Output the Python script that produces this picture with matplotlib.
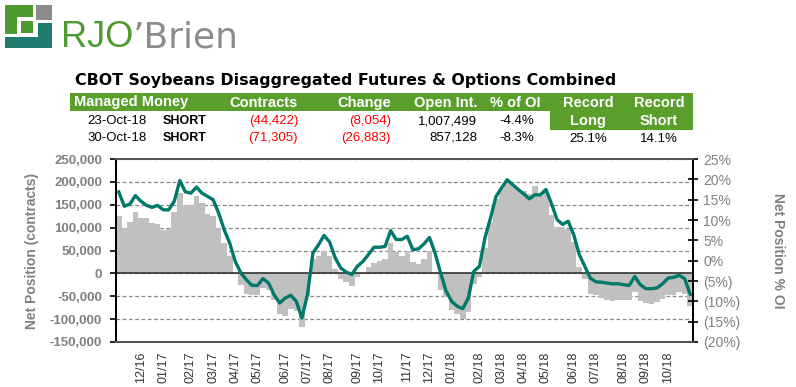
"""CBOT Soybeans managed money positioning chart (RJO'Brien style)."""

import numpy as np
import pandas as pd
import matplotlib
matplotlib.use("Agg")
import matplotlib.pyplot as plt
from matplotlib.patches import Rectangle
from matplotlib.ticker import FuncFormatter, MultipleLocator

# weekly report dates (Tuesdays)
dates = pd.date_range("2016-11-08", "2018-10-30", freq="7D")

# net position, contracts (grey bars, left axis)
net_contracts = [
    124500, 99000, 112000, 134000, 121600, 121000, 110000, 107000, 94600, 97500,
    134000, 176000, 150000, 148500, 170000, 154000, 130000, 125000, 99000, 67000,
    39000, -2000, -26000, -44000, -46600, -46600, -32000, -37000, -59000, -88000,
    -93000, -78600, -83000, -117000, -50000, 32000, 39000, 48800, 39000, 10000,
    -13000, -19000, -27600, -8000, -1000, 14000, 23000, 28000, 30500, 67000,
    46600, 39000, 48800, 24700, 21000, 32000, 50000, 2000, -37000, -51700,
    -80800, -88000, -99000, -84000, -22600, -8000, 55000, 112000, 163000, 185000,
    203000, 193600, 185000, 181000, 174000, 192000, 170000, 177600, 126700, 101000,
    101000, 97500, 68400, 13800, -11600, -44400, -48000, -54000, -59000, -60000,
    -57500, -59000, -57500, -40800, -61000, -64000, -67700, -62600, -55300, -48000,
    -46600, -40800, -44422, -71305,
]

# net position as % of open interest (teal line, right axis)
net_pct_oi = [
    16.9, 13.4, 13.9, 16.0, 14.6, 13.6, 13.1, 13.6, 12.5, 12.5,
    14.6, 19.7, 16.9, 16.6, 18.1, 16.6, 15.8, 15.0, 11.7, 7.6,
    4.3, -0.2, -3.0, -4.7, -6.1, -6.1, -4.4, -5.5, -8.4, -10.4,
    -9.2, -8.5, -10.0, -14.1, -8.4, 1.9, 3.9, 6.2, 4.6, 0.7,
    -1.8, -2.8, -3.4, -1.4, -0.2, 1.5, 3.3, 3.3, 3.5, 7.4,
    5.2, 5.2, 6.0, 2.7, 2.9, 4.1, 5.7, 1.9, -3.0, -7.5,
    -10.0, -11.2, -11.8, -9.2, -2.6, -1.4, 5.6, 10.5, 15.8, 17.9,
    19.9, 18.7, 17.5, 16.4, 15.2, 16.2, 16.2, 17.5, 14.0, 10.1,
    8.9, 9.7, 6.4, 1.5, -1.4, -4.3, -5.2, -5.3, -5.5, -5.7,
    -5.7, -5.9, -6.1, -3.9, -5.9, -6.9, -6.9, -6.7, -5.7, -4.3,
    -4.1, -3.6, -4.4, -8.3,
]

# summary table
table_headers = ["Contracts", "Change", "Open Int.", "% of OI"]
row_dates = ["23-Oct-18", "30-Oct-18"]
row_side = ["SHORT", "SHORT"]
row_contracts = ["(44,422)", "(71,305)"]
row_change = ["(8,054)", "(26,883)"]
row_oi = ["1,007,499", "857,128"]
row_pct = ["-4.4%", "-8.3%"]
record_long = "25.1%"
record_short = "14.1%"

GREEN = "#5a9e2c"
TEAL = "#00786a"
GREY_TXT = "#808080"
W, H = 796, 387

plt.rcParams["font.family"] = ["Liberation Sans", "DejaVu Sans"]

fig = plt.figure(figsize=(W / 100, H / 100), dpi=100)


def fx(x):
    return x / W


def fy(y):
    return 1 - y / H


def px_rect(x0, y0, x1, y1, color):
    fig.patches.append(Rectangle((fx(x0), fy(y1)), fx(x1) - fx(x0), fy(y0) - fy(y1),
                                 transform=fig.transFigure, color=color, lw=0))


def ftext(x, y, s, **kw):
    kw.setdefault("va", "center")
    return fig.text(fx(x), fy(y), s, **kw)


# logo
px_rect(5, 5, 33, 17, "#4e9a2f")
px_rect(5, 5, 17, 34, "#4e9a2f")
px_rect(21, 21, 33, 33, "#4e9a2f")
px_rect(36, 5, 52, 20, "#8c8c8c")
px_rect(5, 37, 52, 48, "#1e7b6e")
px_rect(38, 23, 52, 48, "#1e7b6e")
ftext(61, 47, "RJO", color="#4e9a2f", fontsize=26, va="baseline")
ftext(133, 47, "\u2019Brien", color="#8c8c8c", fontsize=26, va="baseline",
      family="DejaVu Sans")

# title
ftext(75, 80, "CBOT Soybeans Disaggregated Futures & Options Combined",
      fontsize=11.4, fontweight="bold", family="DejaVu Sans")

# table
px_rect(70, 93, 551, 111, GREEN)
px_rect(550, 93, 693, 130, GREEN)
ftext(74, 102, "Managed Money", color="white", fontsize=10.5, fontweight="bold")
for x, s in zip([264, 364, 446, 515], table_headers):
    ftext(x, 103, s, color="white", fontsize=10.5, fontweight="bold", ha="center")
ftext(588, 103, "Record", color="white", fontsize=10.5, fontweight="bold", ha="center")
ftext(659, 103, "Record", color="white", fontsize=10.5, fontweight="bold", ha="center")
ftext(588, 121, "Long", color="white", fontsize=10.5, fontweight="bold", ha="center")
ftext(659, 121, "Short", color="white", fontsize=10.5, fontweight="bold", ha="center")
for k, y in enumerate([121, 138]):
    ftext(147, y, row_dates[k], fontsize=9.5, ha="right")
    ftext(163, y, row_side[k], fontsize=9, fontweight="bold", ha="left")
    ftext(298, y, row_contracts[k], fontsize=9.5, ha="right", color="#ff0000")
    ftext(391, y, row_change[k], fontsize=9.5, ha="right", color="#ff0000")
    ftext(477, y, row_oi[k], fontsize=9.5, ha="right")
    ftext(534, y, row_pct[k], fontsize=9.5, ha="right")
ftext(588, 139, record_long, fontsize=9.5, ha="center")
ftext(659, 139, record_short, fontsize=9.5, ha="center")

# chart
ax = fig.add_axes([fx(116), fy(342), fx(693) - fx(116), fy(159) - fy(342)])
x = np.arange(len(dates))
ax.bar(x, net_contracts, width=1.0, color="#c0c0c0", lw=0, zorder=2)
ax.axhline(0, color="#333333", lw=1.2, zorder=3)
ax.set_xlim(-0.5, len(dates) - 0.5)
ax.set_ylim(-150000, 250000)
ax.yaxis.set_major_locator(MultipleLocator(50000))
ax.yaxis.set_major_formatter(FuncFormatter(lambda v, p: f"{int(v):,}"))
ax.set_axisbelow(True)
ax.yaxis.grid(True, ls=(0, (3, 2)), color="#888888", lw=0.9)
ax.tick_params(axis="y", direction="out", length=4, width=1.2, color="black",
               labelsize=9.5, labelcolor=GREY_TXT, pad=6)
for lab in ax.get_yticklabels():
    lab.set_fontweight("bold")
ax.set_ylabel("Net Position (contracts)", fontsize=10, fontweight="bold",
              color=GREY_TXT, labelpad=8)

tick_idx = [i for i, d in enumerate(dates) if d.day <= 7]
ax.set_xticks(tick_idx)
ax.set_xticklabels([dates[i].strftime("%m/%y") for i in tick_idx], rotation=90,
                   fontsize=9, color="#333333")
ax.tick_params(axis="x", length=0, pad=7)

ax2 = ax.twinx()
ax2.plot(x, net_pct_oi, color=TEAL, lw=2.4, solid_joinstyle="round", zorder=4)
ax2.set_ylim(-20, 25)
ax2.yaxis.set_major_locator(MultipleLocator(5))
ax2.yaxis.set_major_formatter(
    FuncFormatter(lambda v, p: f"{v:.0f}%" if v >= 0 else f"({-v:.0f}%)"))
ax2.tick_params(axis="y", direction="inout", length=7, width=1.2, color="black",
                labelsize=10, labelcolor=GREY_TXT, pad=4)
ax2.set_ylabel("Net Position % OI", fontsize=10, fontweight="bold", color=GREY_TXT,
               rotation=-90, labelpad=32)

for a in (ax, ax2):
    a.spines["top"].set_color("#555555")
    a.spines["bottom"].set_color("#555555")
    a.spines["left"].set_color("black")
    a.spines["right"].set_color("black")
    for s in a.spines.values():
        s.set_linewidth(1.4)

fig.savefig("out.png", dpi=100)
